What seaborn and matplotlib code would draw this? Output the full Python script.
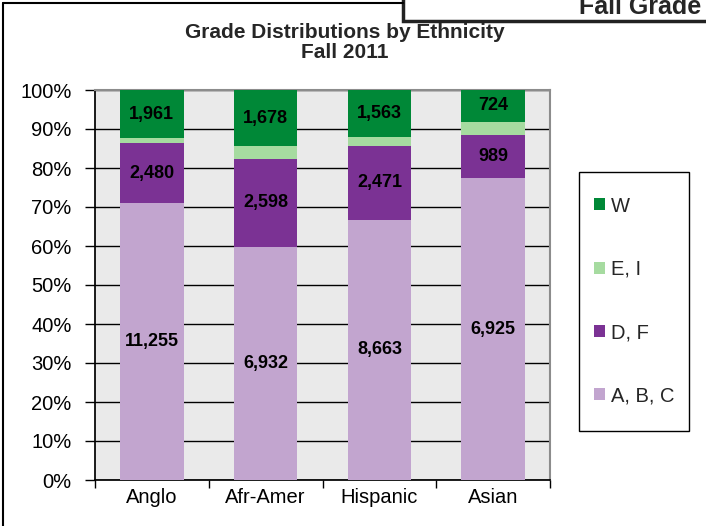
import numpy as np
import pandas as pd
import matplotlib
matplotlib.use('Agg')
import matplotlib.pyplot as plt
import seaborn as sns
from matplotlib.patches import Patch, Rectangle
from matplotlib.lines import Line2D

# counts per ethnicity (E, I not labelled on the chart)
groups = ['Anglo', 'Afr-Amer', 'Hispanic', 'Asian']
abc = [11255, 6932, 8663, 6925]
df_ = [2480, 2598, 2471, 989]
ei = [178, 375, 295, 315]
w = [1961, 1678, 1563, 724]

series = ['A, B, C', 'D, F', 'E, I', 'W']
colors = {'A, B, C': '#C2A5CF', 'D, F': '#7B3294', 'E, I': '#A6DBA0', 'W': '#008837'}

counts = pd.DataFrame({'A, B, C': abc, 'D, F': df_, 'E, I': ei, 'W': w}, index=groups)
pct = counts.div(counts.sum(axis=1), axis=0) * 100
cum = pct.cumsum(axis=1)

sns.set_theme(style='white')
plt.rcParams['font.family'] = ['Liberation Sans', 'DejaVu Sans']

fig = plt.figure(figsize=(7.06, 5.26), dpi=100)
ax = fig.add_axes([95 / 706, 1 - 480 / 526, 455 / 706, 390 / 526])
ax.set_facecolor('#EAEAEA')

# draw tallest cumulative first so each layer sits on the one below
for s in reversed(series):
    d = pd.DataFrame({'group': groups, 'val': cum[s].values})
    sns.barplot(data=d, x='group', y='val', color=colors[s], width=0.56,
                saturation=1, linewidth=0, edgecolor='none', ax=ax, zorder=3)

# value labels (E, I not labelled)
for i, g in enumerate(groups):
    for s in ['A, B, C', 'D, F', 'W']:
        mid = cum.loc[g, s] - pct.loc[g, s] / 2
        ax.text(i, mid, f'{counts.loc[g, s]:,}', ha='center', va='center',
                fontsize=13, fontweight='bold', color='black', zorder=5)

ax.set_ylim(0, 100)
ax.set_xlim(-0.5, 3.5)
ax.set_yticks(np.arange(0, 101, 10))
ax.set_yticklabels([f'{v}%' for v in range(0, 101, 10)], fontsize=14.5)
ax.yaxis.grid(True, color='black', linewidth=1)
ax.set_axisbelow(True)
ax.set_xlabel('')
ax.set_ylabel('')
ax.tick_params(axis='x', labelsize=14.5, length=0, pad=6)
ax.set_xticks([-0.5, 0.5, 1.5, 2.5, 3.5], minor=True)
ax.tick_params(axis='x', which='minor', length=6, width=1, color='black', direction='out', bottom=True)
ax.tick_params(axis='y', length=7, width=1, color='black', direction='out', left=True, pad=10)
for sp in ['top', 'right']:
    ax.spines[sp].set_color('#8C8C8C')
    ax.spines[sp].set_linewidth(1.5)
ax.spines['left'].set_color('black')
ax.spines['bottom'].set_color('black')
for t in ax.get_yticklabels() + ax.get_xticklabels():
    t.set_color('black')

# title
fig.text(345 / 706, 1 - 32 / 526, 'Grade Distributions by Ethnicity', ha='center', va='center',
         fontsize=15, fontweight='bold')
fig.text(345 / 706, 1 - 52 / 526, 'Fall 2011', ha='center', va='center',
         fontsize=15, fontweight='bold')

# legend (frame drawn separately)
handles = [Patch(facecolor=colors[s], edgecolor='none', label=s) for s in ['W', 'E, I', 'D, F', 'A, B, C']]
leg = fig.legend(handles=handles, loc='center', bbox_to_anchor=(634 / 706, 1 - 301 / 526),
                 fontsize=14.5, frameon=False,
                 handlelength=0.55, handleheight=0.55, handletextpad=0.3,
                 labelspacing=2.2, borderpad=0, borderaxespad=0)
fig.add_artist(Rectangle((579 / 706, 1 - 431 / 526), 110 / 706, 259 / 526, facecolor='none',
                         edgecolor='black', linewidth=1, transform=fig.transFigure))

# outer frame of the slide clip
fig.add_artist(Line2D([3 / 706, 3 / 706], [0, 1 - 3 / 526], color='black', linewidth=1.5))
fig.add_artist(Line2D([3 / 706, 403 / 706], [1 - 3 / 526, 1 - 3 / 526], color='black', linewidth=1.5))
fig.add_artist(Rectangle((403 / 706, 1 - 21 / 526), 310 / 706, 30 / 526, facecolor='white',
                         edgecolor='#222222', linewidth=2.5, transform=fig.transFigure))
fig.text(579 / 706, 1 - 14 / 526, 'Fall Grade', ha='left', va='baseline', fontsize=18,
         fontweight='bold')

fig.savefig('out.png', dpi=100)
